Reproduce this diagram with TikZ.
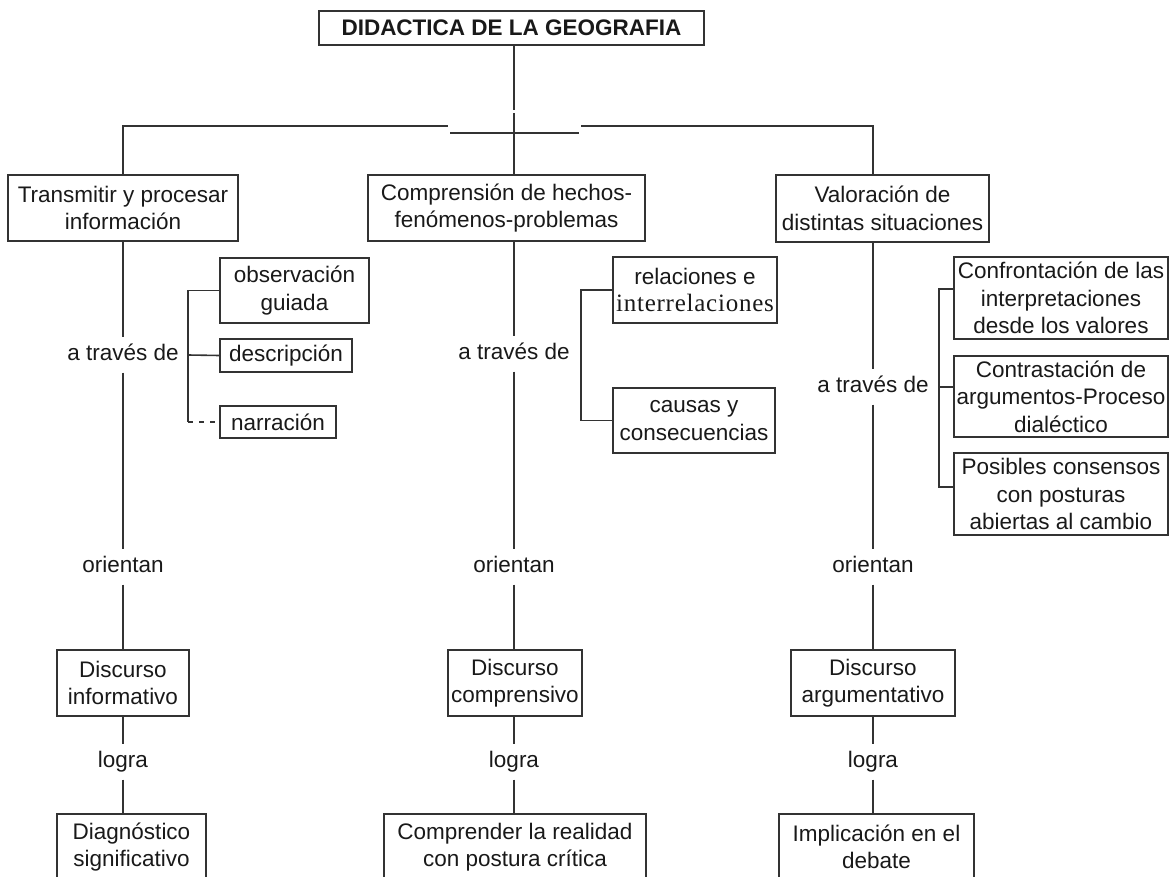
\documentclass[tikz,border=0pt]{standalone}
\usepackage{fontspec}
\setmainfont{Liberation Sans}
\newfontfamily\serifalt[LetterSpace=3]{Liberation Serif}

\begin{document}
\begin{tikzpicture}[x=1pt,y=-1pt,
  caja/.style={draw=black!80,line width=1.6pt,align=center,inner sep=1pt,
    text=black!90,font=\fontsize{22.5}{27.5}\selectfont},
  enlace/.style={inner xsep=2pt,inner ysep=7pt,text height=16pt,text depth=5pt,
    text=black!90,font=\fontsize{22.5}{27.5}\selectfont},
  linea/.style={draw=black!80,line width=1.6pt}]
  \useasboundingbox (0,0) rectangle (1171,877);
  \clip (0,0) rectangle (1171,877);

  % titulo
  \node[caja,minimum width=385pt,minimum height=34pt,
    font=\fontsize{22.5}{27}\selectfont\bfseries] (titulo) at (511.5,28)
    {DIDACTICA DE LA GEOGRAFIA};

  % primer nivel
  \node[caja,minimum width=230pt,minimum height=66pt] (transmitir) at (123,208)
    {Transmitir y procesar\\información};
  \node[caja,minimum width=277pt,minimum height=66pt] (comprension) at (506.5,208)
    {Comprensión de hechos-\\fenómenos-problemas};
  \node[caja,minimum width=213pt,minimum height=67pt] (valoracion) at (882.5,208.5)
    {Valoración de\\distintas situaciones};

  % enlaces del tronco
  \foreach \i/\x in {1/123, 2/514, 3/873} {
    \node[enlace] (ori\i) at (\x,567) {orientan};
    \node[enlace] (logra\i) at (\x,762) {logra};
  }
  \node[enlace] (via1) at (123,355) {a través de};
  \node[enlace] (via2) at (514,354) {a través de};
  \node[enlace] (via3) at (873,387) {a través de};

  % discursos
  \node[caja,minimum width=132pt,minimum height=66pt] (dinf) at (123,683)
    {Discurso\\informativo};
  \node[caja,minimum width=134pt,minimum height=66pt] (dcomp) at (515,683)
    {Discurso\\comprensivo};
  \node[caja,minimum width=164pt,minimum height=66pt] (darg) at (873,683)
    {Discurso\\argumentativo};

  % logros
  \node[caja,minimum width=149pt,minimum height=66pt] (diag) at (131.5,847)
    {Diagnóstico\\significativo};
  \node[caja,minimum width=262pt,minimum height=66pt] (realidad) at (515,847)
    {Comprender la realidad\\con postura crítica};
  \node[caja,minimum width=195pt,minimum height=66pt] (debate) at (876.5,847)
    {Implicación en el\\debate};

  % medios
  \node[caja,minimum width=149pt,minimum height=65pt] (observacion) at (294.5,290.5)
    {observación\\guiada};
  \node[caja,minimum width=132pt,minimum height=33pt] (descripcion) at (286,355.5)
    {descripción};
  \node[caja,minimum width=116pt,minimum height=32pt] (narracion) at (278,422)
    {narración};
  \node[caja,minimum width=164pt,minimum height=66pt] (relaciones) at (695,290)
    {relaciones e\\{\serifalt\fontsize{25}{27.5}\selectfont interrelaciones}};
  \node[caja,minimum width=162pt,minimum height=65pt] (causas) at (694,420.5)
    {causas y\\consecuencias};
  \node[caja,minimum width=214pt,minimum height=82pt] (confrontacion) at (1061,298)
    {Confrontación de las\\interpretaciones\\desde los valores};
  \node[caja,minimum width=214pt,minimum height=81pt] (contrastacion) at (1061,396.5)
    {Contrastación de\\argumentos-Proceso\\dialéctico};
  \node[caja,minimum width=214pt,minimum height=82pt] (consensos) at (1061,494)
    {Posibles consensos\\con posturas\\abiertas al cambio};

  % union superior
  \coordinate (corte) at (514,110);
  \coordinate (corte2) at (514,113);
  \coordinate (corteizq) at (448,126);
  \coordinate (corteder) at (581,126);
  \coordinate (barra1) at (450,133);
  \coordinate (barra2) at (579,133);
  \draw[linea] (titulo.south -| via2) -- (corte);
  \draw[linea] (via2 |- comprension.north) -- (corte2);
  \draw[linea] (transmitir.north) |- (corteizq);
  \draw[linea] (via3 |- valoracion.north) |- (corteder);
  \draw[linea] (barra1) -- (barra2);

  % troncos
  \foreach \i/\a/\b/\c in {1/transmitir/dinf/diag, 2/comprension/dcomp/realidad,
      3/valoracion/darg/debate} {
    \draw[linea] (via\i |- \a.south) -- (via\i) -- (ori\i) -- (ori\i |- \b.north);
    \draw[linea] (logra\i |- \b.south) -- (logra\i) -- (logra\i |- \c.north);
  }

  % llaves
  \coordinate (llaveizq) at (188,355);
  \draw[linea] (observacion.west) -| (llaveizq |- narracion.west);
  \draw[linea] (llaveizq) -- (descripcion.west);
  \draw[linea,dash pattern=on 5pt off 6pt] (llaveizq |- narracion.west) -- (narracion.west);

  \coordinate (llavecen) at (581,355);
  \draw[linea] (relaciones.west) -| (llavecen |- causas.west) -- (causas.west);

  \coordinate (llaveder) at (939,387);
  \draw[linea] ([yshift=9pt]confrontacion.west) -| ([yshift=7pt]consensos.west -| llaveder)
    -- ([yshift=7pt]consensos.west);
  \draw[linea] (llaveder) -- (contrastacion.west |- llaveder);
\end{tikzpicture}
\end{document}
